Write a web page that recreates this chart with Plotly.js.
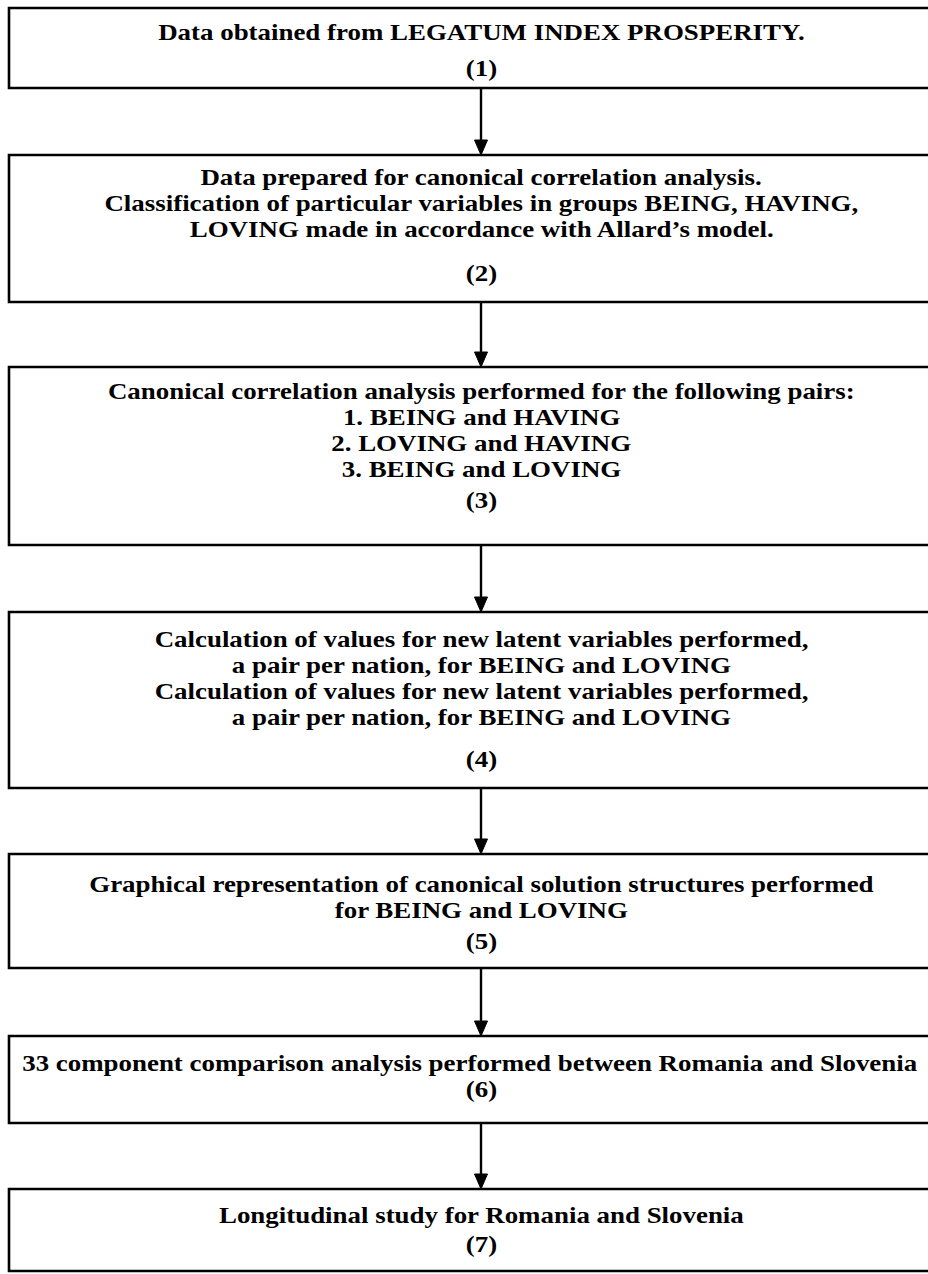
<!DOCTYPE html>
<html>
<head>
<meta charset="utf-8">
<script src="https://cdn.plot.ly/plotly-3.0.1.min.js"></script>
<style>html,body{margin:0;padding:0;background:#fff;}#chart{width:928px;height:1274px;}</style>
</head>
<body>
<div id="chart"></div>
<script>
// ---- content ----
const stepLabels = ['(1)', '(2)', '(3)', '(4)', '(5)', '(6)', '(7)'];
const step1Text = ['Data obtained from LEGATUM INDEX PROSPERITY.'];
const step2Text = ['Data prepared for canonical correlation analysis.',
  'Classification of particular variables in groups BEING, HAVING,',
  'LOVING made in accordance with Allard\u2019s model.'];
const step3Text = ['Canonical correlation analysis performed for the following pairs:',
  '1. BEING and HAVING', '2. LOVING and HAVING', '3. BEING and LOVING'];
const step4Text = ['Calculation of values for new latent variables performed,',
  'a pair per nation, for BEING and LOVING',
  'Calculation of values for new latent variables performed,',
  'a pair per nation, for BEING and LOVING'];
const step5Text = ['Graphical representation of canonical solution structures performed',
  'for BEING and LOVING'];
const step6Text = ['33 component comparison analysis performed between Romania and Slovenia'];
const step7Text = ['Longitudinal study for Romania and Slovenia'];
const stepTexts = [step1Text, step2Text, step3Text, step4Text, step5Text, step6Text, step7Text];

// ---- geometry (pixels in a 928 x 1274 frame) ----
const boxLeft = 9, boxRight = 954, arrowX = 481, centerX = 481;
const boxTop    = [8, 155, 367, 612, 854, 1036, 1189];
const boxBottom = [88, 302, 545, 788, 968, 1123, 1271];
const lineYs = [
  [32, 68],
  [177, 203, 229, 273],
  [391, 417, 443, 469, 500],
  [639, 665, 691, 717, 759],
  [884, 910, 941],
  [1063, 1089],
  [1215, 1244]
];
// the one over-long line sits slightly left of the box centre
const lineXShift = [[0, 0], [0, 0, 0, 0], [0, 0, 0, 0, 0], [0, 0, 0, 0, 0], [0, 0, 0], [-11, 0], [0, 0]];
const textStretch = 1.17;

const shapes = [];
const annotations = [];
const fontSpec = {family: '"Liberation Serif", "Times New Roman", serif', size: 23, color: '#000'};

for (let i = 0; i < stepLabels.length; i++) {
  shapes.push({type: 'rect', xref: 'x', yref: 'y', x0: boxLeft, x1: boxRight,
    y0: boxTop[i], y1: boxBottom[i], line: {color: '#000', width: 2.6}, fillcolor: 'rgba(0,0,0,0)'});
  const lines = stepTexts[i].concat([stepLabels[i]]);
  lines.forEach((t, j) => {
    annotations.push({xref: 'x', yref: 'y', x: centerX + lineXShift[i][j], y: lineYs[i][j],
      text: '<b>' + t + '</b>',
      showarrow: false, xanchor: 'center', yanchor: 'middle', font: fontSpec});
  });
  if (i < stepLabels.length - 1) {
    const y0 = boxBottom[i], y1 = boxTop[i + 1];
    shapes.push({type: 'line', xref: 'x', yref: 'y', x0: arrowX, x1: arrowX, y0: y0, y1: y1 - 12,
      line: {color: '#000', width: 2.4}});
    shapes.push({type: 'path', xref: 'x', yref: 'y',
      path: `M ${arrowX - 6.5} ${y1 - 15} L ${arrowX + 6.5} ${y1 - 15} L ${arrowX} ${y1} Z`,
      fillcolor: '#000', line: {color: '#000', width: 1}});
  }
}

const layout = {
  width: 928, height: 1274,
  margin: {l: 0, r: 0, t: 0, b: 0},
  paper_bgcolor: '#fff', plot_bgcolor: '#fff',
  xaxis: {range: [0, 928], visible: false, fixedrange: true},
  yaxis: {range: [1274, 0], visible: false, fixedrange: true},
  shapes: shapes,
  annotations: annotations,
  showlegend: false
};

Plotly.newPlot('chart', [], layout, {staticPlot: true, displayModeBar: false}).then(() => {
  document.querySelectorAll('#chart text.annotation-text').forEach(el => {
    el.style.transformBox = 'fill-box';
    el.style.transformOrigin = 'center';
    el.style.transform = 'scaleX(' + textStretch + ')';
  });
});
</script>
</body>
</html>
